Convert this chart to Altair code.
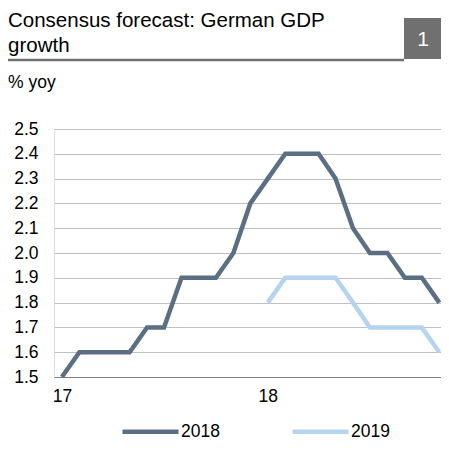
import altair as alt
import pandas as pd

months_2018 = ["2017-01-01", "2017-02-01", "2017-03-01", "2017-04-01", "2017-05-01", "2017-06-01",
               "2017-07-01", "2017-08-01", "2017-09-01", "2017-10-01", "2017-11-01", "2017-12-01",
               "2018-01-01", "2018-02-01", "2018-03-01", "2018-04-01", "2018-05-01", "2018-06-01",
               "2018-07-01", "2018-08-01", "2018-09-01", "2018-10-01", "2018-11-01"]
gdp_2018 = [1.5, 1.6, 1.6, 1.6, 1.6, 1.7, 1.7, 1.9, 1.9, 1.9, 2.0, 2.2,
            2.3, 2.4, 2.4, 2.4, 2.3, 2.1, 2.0, 2.0, 1.9, 1.9, 1.8]
months_2019 = ["2018-01-01", "2018-02-01", "2018-03-01", "2018-04-01", "2018-05-01", "2018-06-01",
               "2018-07-01", "2018-08-01", "2018-09-01", "2018-10-01", "2018-11-01"]
gdp_2019 = [1.8, 1.9, 1.9, 1.9, 1.9, 1.8, 1.7, 1.7, 1.7, 1.7, 1.6]
series_names = ["2018", "2019"]
series_colors = ["#5b6f84", "#b6d3f0"]
y_ticks = [1.5, 1.6, 1.7, 1.8, 1.9, 2.0, 2.1, 2.2, 2.3, 2.4, 2.5]

df = pd.concat([
    pd.DataFrame({"date": months_2018, "value": gdp_2018, "series": series_names[0]}),
    pd.DataFrame({"date": months_2019, "value": gdp_2019, "series": series_names[1]}),
])
dummy = pd.DataFrame({"a": [0]})

FONT = "Liberation Sans"
LBL = 17.5
TTL = 20.5
W = 387

lines = alt.Chart(df).mark_line(strokeWidth=4.5).encode(
    x=alt.X("date:T",
            scale=alt.Scale(type="utc",
                            domain=[alt.DateTime(year=2016, month=12, date=18, utc=True),
                                    alt.DateTime(year=2018, month=11, date=4, utc=True)],
                            nice=False),
            axis=alt.Axis(values=[alt.DateTime(year=2017, month=1, date=1, utc=True),
                                  alt.DateTime(year=2018, month=1, date=1, utc=True)],
                          labelExpr="utcFormat(datum.value, '%y')",
                          grid=False, ticks=False,
                          domainColor="#808080", domainWidth=1, labelPadding=10,
                          labelFontSize=LBL, labelColor="black", labelFlush=False,
                          title=None)),
    y=alt.Y("value:Q",
            scale=alt.Scale(domain=[1.5, 2.5], nice=False, zero=False),
            axis=alt.Axis(values=y_ticks, format=".1f", domain=False, ticks=False,
                          labelPadding=16, labelFontSize=LBL, labelColor="black",
                          gridColor="#c0c0c0", gridWidth=1, title=None)),
    color=alt.Color("series:N",
                    scale=alt.Scale(domain=series_names, range=series_colors),
                    legend=alt.Legend(orient="none", legendX=66, legendY=272,
                                      direction="horizontal", title=None,
                                      symbolType="stroke", symbolSize=3136,
                                      symbolStrokeWidth=4.5, labelFontSize=LBL,
                                      labelOffset=0, columnPadding=63,
                                      labelColor="black", padding=0)),
)

title1 = alt.Chart(dummy).mark_text(align="left", baseline="alphabetic", fontSize=TTL,
                                    text="Consensus forecast: German GDP", color="black").encode(
    x=alt.value(-46), y=alt.value(-102))
title2 = alt.Chart(dummy).mark_text(align="left", baseline="alphabetic", fontSize=TTL,
                                    text="growth", color="black").encode(
    x=alt.value(-46), y=alt.value(-77))
box = alt.Chart(dummy).mark_rect(color="#707070").encode(
    x=alt.value(W - 37), x2=alt.value(W), y=alt.value(-111), y2=alt.value(-70))
underline = alt.Chart(dummy).mark_rule(color="#707070", strokeWidth=2.5).encode(
    x=alt.value(-46), x2=alt.value(W - 37), y=alt.value(-69))
num = alt.Chart(dummy).mark_text(align="center", baseline="middle", fontSize=21,
                                 text="1", color="white").encode(
    x=alt.value(W - 18), y=alt.value(-89))
unit = alt.Chart(dummy).mark_text(align="left", baseline="alphabetic", fontSize=LBL,
                                  text="% yoy", color="black").encode(
    x=alt.value(-46), y=alt.value(-41))

chart = alt.layer(lines, title1, title2, box, underline, num, unit).properties(
    width=W, height=248,
    autosize=alt.AutoSizeParams(type="none"),
    padding={"left": 46, "top": 121, "right": 0, "bottom": 66},
).configure_view(stroke=None).configure(font=FONT)

chart.save("out.html", embed_options={"renderer": "svg", "actions": False})
